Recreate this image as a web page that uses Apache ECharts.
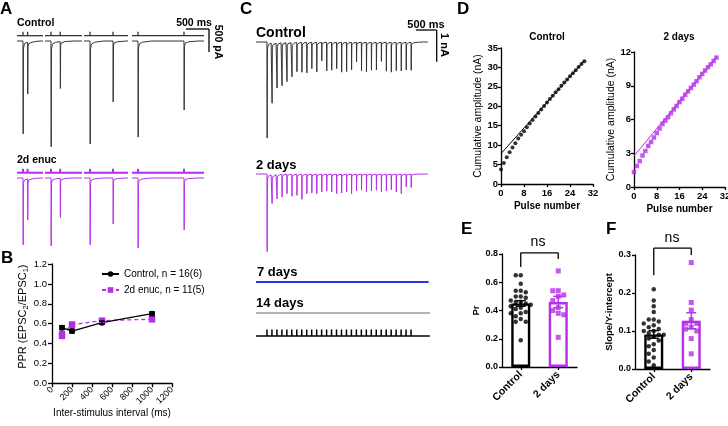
<!DOCTYPE html>
<html><head><meta charset="utf-8">
<script src="https://cdn.jsdelivr.net/npm/echarts@6/dist/echarts.min.js"></script>
<style>html,body{margin:0;padding:0;background:#fff}#c{width:728px;height:426px}</style>
</head><body><div id="c"></div>
<script>
// ===================== DATA =====================
// Panel A: paired-pulse sweeps (ISI in ms, peak amplitudes in pA)
const aISI = [100, 200, 500, 1000];
const aCtrlPeak1 = [2020, 2300, 2240, 2090];
const aCtrlPeak2 = [1130, 1020, 1325, 1500];
const aEnucPeak1 = [1455, 1475, 1455, 1520];
const aEnucPeak2 = [890, 850, 1000, 1130];
const aSweepStart = [0, 609, 1457, 2500];   // ms
const aSweepLen = [565, 804, 956, 1565];    // ms
const aStimDelay = 130;                     // ms
const aScaleMs = 500, aScalePA = 500;

// Panel B: PPR vs inter-stimulus interval
const bISI = [100, 200, 500, 1000];
const bCtrl = [0.56, 0.525, 0.61, 0.70];
const bCtrlSem = [0.02, 0.02, 0.015, 0.02];
const bEnuc = [0.485, 0.59, 0.63, 0.645];
const bEnucSem = [0.035, 0.025, 0.02, 0.025];
const bTicksX = [0, 1200, 200];
const bTicksY = [0, 1.2, 0.2];

// Panel C: train of 30 pulses (peak amplitudes in pA)
const cStimOnset = 265, cISI = 120, cTraceEnd = 4150; // ms
const cCtrlPeaks = [3030, 1900, 1420, 1360, 1230, 1080, 920, 940, 960, 830, 930, 580, 900, 880, 830,
                    940, 920, 870, 620, 900, 930, 880, 870, 600, 910, 940, 890, 900, 870, 880];
const cDay2Peaks = [2450, 905, 770, 716, 611, 695, 663, 790, 611, 590, 611, 558, 527, 558, 611,
                    590, 558, 611, 527, 506, 558, 527, 506, 558, 527, 485, 558, 611, 400, 420];
const cScaleMs = 500, cScalePA = 1000;

// Panel D: cumulative amplitude (nA) vs pulse number
const dPulse = [0,1,2,3,4,5,6,7,8,9,10,11,12,13,14,15,16,17,18,19,20,21,22,23,24,25,26,27,28,29];
const dCtrlCum = [3.7, 5.4, 6.9, 8.2, 9.4, 10.5, 11.7, 12.7, 13.6, 14.6, 15.6, 16.5, 17.4, 18.3, 19.2,
                  20.1, 21.0, 21.9, 22.7, 23.6, 24.4, 25.3, 26.1, 26.9, 27.7, 28.5, 29.3, 30.1, 30.9, 31.6];
const dDay2Cum = [1.33, 1.87, 2.3, 2.8, 3.2, 3.65, 4.0, 4.4, 4.8, 5.2, 5.6, 5.9, 6.2, 6.55, 6.9,
                  7.2, 7.55, 7.85, 8.2, 8.5, 8.8, 9.1, 9.4, 9.75, 10.05, 10.35, 10.65, 10.9, 11.2, 11.5];
const dCtrlFit = [[0, 7.8], [29, 31.8]];
const dDay2Fit = [[0, 2.75], [29, 11.6]];

// Panel E: Pr
const groups = ['Control', '2 days'];
const eMean = [0.45, 0.46];
const eSem = [0.02, 0.04];
const eCtrlPts = [0.65, 0.65, 0.59, 0.54, 0.54, 0.53, 0.50, 0.50, 0.49, 0.47, 0.46, 0.46, 0.45,
                  0.44, 0.43, 0.42, 0.41, 0.39, 0.38, 0.38, 0.36, 0.34, 0.32, 0.32, 0.19];
const eDay2Pts = [0.68, 0.54, 0.54, 0.51, 0.50, 0.47, 0.42, 0.40, 0.38, 0.37, 0.21];
const eBracket = [0.808, 0.708, 0.765]; // top, left foot, right foot

// Panel F: Slope / Y-intercept
const fMean = [0.091, 0.127];
const fSem = [0.01, 0.021];
const fCtrlPts = [0.21, 0.18, 0.165, 0.15, 0.13, 0.13, 0.125, 0.12, 0.115, 0.11, 0.105, 0.10, 0.10,
                  0.095, 0.09, 0.09, 0.085, 0.08, 0.075, 0.065, 0.06, 0.05, 0.04, 0.03, 0.02, 0.01];
const fDay2Pts = [0.28, 0.175, 0.155, 0.13, 0.12, 0.12, 0.11, 0.105, 0.10, 0.08, 0.04];
const fBracket = [0.318, 0.247, 0.30];

// ===================== STYLE / LAYOUT =====================
const FONT = '"Liberation Sans", Arial, Helvetica, sans-serif';
const PURPLE = '#b52ee8';
const BLUE = '#2a32f0';
const GRAY = '#b4b4b4';
const kernelT = [0, 4, 10, 30, 100, 300];
const kernelF = [0, 1, 0.08, 0.03, 0.012, 0];
function kern(dt) {
  if (dt <= 0 || dt >= kernelT[kernelT.length - 1]) return 0;
  for (let i = 1; i < kernelT.length; i++) {
    if (dt <= kernelT[i]) {
      const f = (dt - kernelT[i - 1]) / (kernelT[i] - kernelT[i - 1]);
      return kernelF[i - 1] + f * (kernelF[i] - kernelF[i - 1]);
    }
  }
  return 0;
}
function traceData(events, start, end) {
  const ts = new Set([start, end]);
  events.forEach(e => kernelT.forEach(k => ts.add(e.t + k)));
  const arr = [...ts].filter(t => t >= start && t <= end).sort((a, b) => a - b);
  return arr.map(t => [t, -events.reduce((s, e) => s + e.p * kern(t - e.t), 0)]);
}

const grids = [], xAxes = [], yAxes = [], series = [], graphics = [];
function addGrid(g, xa, ya) {
  g.containLabel = false; g.outerBoundsMode = 'none';
  grids.push(g); const gi = grids.length - 1;
  xa.gridIndex = gi; ya.gridIndex = gi; xAxes.push(xa); yAxes.push(ya); return gi;
}
function hidden(min, max) { return { type: 'value', min, max, show: false, splitLine: { show: false } }; }
function lineS(gi, data, color, width, extra) {
  return Object.assign({ type: 'line', xAxisIndex: gi, yAxisIndex: gi, data, showSymbol: false, symbol: 'none',
    lineStyle: { color, width }, itemStyle: { color }, animation: false, silent: true, clip: false }, extra || {});
}
function segSeries(gi, segs, color, width) {
  return { type: 'custom', xAxisIndex: gi, yAxisIndex: gi, silent: true, clip: false, animation: false, data: segs,
    encode: { x: [0, 2], y: [1, 3] }, z: 4,
    renderItem: (p, api) => {
      const a = api.coord([api.value(0), api.value(1)]);
      const b = api.coord([api.value(2), api.value(3)]);
      return { type: 'line', shape: { x1: a[0], y1: a[1], x2: b[0], y2: b[1] }, style: { stroke: color, lineWidth: width } };
    } };
}
function errSeries(gi, xs, means, sems, colors, cap, width) {
  return { type: 'custom', xAxisIndex: gi, yAxisIndex: gi, silent: true, clip: false, animation: false, z: 6,
    data: xs.map((x, i) => [x, means[i] - sems[i], means[i] + sems[i], i]),
    encode: { x: 0, y: [1, 2] },
    renderItem: (p, api) => {
      const x = api.value(0);
      const lo = api.coord([x, api.value(1)]), hi = api.coord([x, api.value(2)]);
      const c = colors[api.value(3)];
      const st = { stroke: c, lineWidth: width };
      return { type: 'group', children: [
        { type: 'line', shape: { x1: lo[0], y1: lo[1], x2: hi[0], y2: hi[1] }, style: st },
        { type: 'line', shape: { x1: lo[0] - cap, y1: lo[1], x2: lo[0] + cap, y2: lo[1] }, style: st },
        { type: 'line', shape: { x1: hi[0] - cap, y1: hi[1], x2: hi[0] + cap, y2: hi[1] }, style: st }
      ] };
    } };
}
function txt(x, y, s, size, bold, opt) {
  opt = opt || {};
  return { type: 'text', x, y, rotation: opt.rot || 0, z: 100, silent: true,
    style: { text: s, fontSize: size, fontWeight: bold ? 'bold' : 'normal', fontFamily: FONT, fill: opt.color || '#000',
      align: opt.align || 'left', verticalAlign: opt.va || 'middle',
      textAlign: opt.align || 'left', textVerticalAlign: opt.va || 'middle' } };
}
const AX = { color: '#000', width: 1.3 };
function valAxis(min, max, interval, o) {
  o = o || {};
  return { type: 'value', min, max, interval,
    axisLine: { show: true, onZero: false, lineStyle: AX },
    axisTick: { show: true, length: o.tickLen || 3, lineStyle: AX },
    axisLabel: { color: '#000', fontSize: o.fs || 9.5, fontFamily: FONT, fontWeight: o.bold ? 'bold' : 'normal',
      margin: o.margin || 4, rotate: o.rotate || 0, formatter: o.fmt || (v => String(v)), showMinLabel: true, showMaxLabel: true },
    splitLine: { show: false },
    name: o.name, nameLocation: 'middle', nameGap: o.nameGap, nameRotate: o.nameRotate,
    nameTextStyle: Object.assign({ color: '#000', fontSize: o.nfs || 9.5, fontFamily: FONT, fontWeight: o.nbold ? 'bold' : 'normal' }, o.nts || {}) };
}

// ===================== PANEL A =====================
const A_MS_PX = 500 / 23, A_PA_PX = 500 / 23;
function buildA(baseY, peak1, peak2, color, barWidth) {
  const gi = addGrid({ left: 17, top: baseY - 400 / A_PA_PX, width: 4400 / A_MS_PX, height: 3000 / A_PA_PX },
    hidden(0, 4400), hidden(-2600, 400));
  const segs = [];
  aISI.forEach((isi, i) => {
    const s = aSweepStart[i], e = s + aSweepLen[i];
    const t1 = s + aStimDelay, t2 = t1 + isi;
    series.push(lineS(gi, traceData([{ t: t1, p: peak1[i] }, { t: t2, p: peak2[i] }], s, e), color, 1));
    segs.push([s, 115, e, 115], [t1, 115, t1, 200], [t2, 115, t2, 200]);
  });
  series.push(segSeries(gi, segs, color, barWidth));
  return gi;
}
const gA1 = buildA(41, aCtrlPeak1, aCtrlPeak2, '#333', 1.3);
const gA2 = buildA(178, aEnucPeak1, aEnucPeak2, PURPLE, 2);
{
  const x0 = (186 - 17) * A_MS_PX, y0 = (41 - 29) * A_PA_PX;
  series.push(segSeries(gA1, [[x0, y0, x0 + aScaleMs, y0], [x0 + aScaleMs, y0, x0 + aScaleMs, y0 - aScalePA]], '#000', 1.3));
}
graphics.push(txt(0, 9, 'A', 17, true));
graphics.push(txt(17, 23.5, 'Control', 10.5, true));
graphics.push(txt(194, 23, '500 ms', 10.5, true, { align: 'center' }));
graphics.push(txt(218, 42, '500 pA', 10.5, true, { align: 'center', rot: -Math.PI / 2 }));
graphics.push(txt(17, 160.5, '2d enuc', 10.5, true));

// ===================== PANEL B =====================
const gB = addGrid({ left: 52, top: 264, width: 120, height: 119.3 },
  valAxis(bTicksX[0], bTicksX[1], bTicksX[2], { rotate: 45, fs: 9, margin: 5, tickLen: 4,
    name: 'Inter-stimulus interval (ms)', nameGap: 20, nfs: 10 }),
  valAxis(bTicksY[0], bTicksY[1], bTicksY[2], { fs: 9.5, margin: 5, tickLen: 4, fmt: v => v.toFixed(1),
    name: '{t|PPR (EPSC}{s|2}{t|/EPSC}{s|1}{t|)}', nameGap: 21, nameRotate: 90,
    nts: { padding: [0, 0, 0, 14], rich: { t: { fontSize: 11, fontFamily: FONT, color: '#000' },
      s: { fontSize: 7.5, fontFamily: FONT, color: '#000', verticalAlign: 'bottom', padding: [6, 0, 0, 0] } } } }));
series.push(errSeries(gB, bISI, bEnuc, bEnucSem, [PURPLE, PURPLE, PURPLE, PURPLE], 3, 1.2));
series.push(errSeries(gB, bISI, bCtrl, bCtrlSem, ['#000', '#000', '#000', '#000'], 3, 1.2));
series.push({ type: 'line', name: '2d enuc, n = 11(5)', xAxisIndex: gB, yAxisIndex: gB, animation: false,
  data: bISI.map((x, i) => [x, bEnuc[i]]), symbol: 'rect', symbolSize: 6.5, showSymbol: true,
  lineStyle: { color: PURPLE, width: 1.3, type: [4, 3] }, itemStyle: { color: PURPLE }, z: 3 });
series.push({ type: 'line', name: 'Control, n = 16(6)', xAxisIndex: gB, yAxisIndex: gB, animation: false,
  data: bISI.map((x, i) => [x, bCtrl[i]]), symbol: 'circle', symbolSize: 6, showSymbol: true,
  lineStyle: { color: '#000', width: 1.3 }, itemStyle: { color: '#000' }, z: 4 });
graphics.push(txt(1, 258, 'B', 17, true));

// ===================== PANEL C =====================
const C_MS_PX = 500 / 20.7, C_PA_PX = 1000 / 31.7;
const cEvents = peaks => peaks.map((p, k) => ({ t: cStimOnset + k * cISI, p }));
function cGrid(baseY, ymin, ymax, pxPer) {
  return addGrid({ left: 256, top: baseY - ymax / pxPer, width: 4800 / C_MS_PX, height: (ymax - ymin) / pxPer },
    hidden(0, 4800), hidden(ymin, ymax));
}
const gC1 = cGrid(42, -3300, 500, C_PA_PX);
series.push(lineS(gC1, traceData(cEvents(cCtrlPeaks), 0, cTraceEnd), '#333', 1));
{
  const x0 = (416 - 256) * C_MS_PX, y0 = (42 - 30) * C_PA_PX;
  series.push(segSeries(gC1, [[x0, y0, x0 + cScaleMs, y0], [x0 + cScaleMs, y0, x0 + cScaleMs, y0 - cScalePA]], '#000', 1.3));
}
const gC2 = cGrid(174, -3300, 500, C_PA_PX);
series.push(lineS(gC2, traceData(cEvents(cDay2Peaks), 0, cTraceEnd), PURPLE, 1));
const gC3 = cGrid(282, -1, 1, 0.1);
series.push(lineS(gC3, [[0, 0], [cTraceEnd + 20, 0]], BLUE, 2));
const gC4 = cGrid(313, -1, 1, 0.1);
series.push(lineS(gC4, [[0, 0], [cTraceEnd + 50, 0]], GRAY, 2.2));
const gC5 = cGrid(336, -1, 1, 0.1);
{
  const segs = [[0, 0, cTraceEnd + 50, 0]];
  cCtrlPeaks.forEach((p, k) => { const t = cStimOnset + k * cISI; segs.push([t, 0, t, 0.65]); });
  series.push(segSeries(gC5, segs, '#000', 1.5));
}
graphics.push(txt(240, 9, 'C', 17, true));
graphics.push(txt(256, 33.5, 'Control', 14, true));
graphics.push(txt(426, 25, '500 ms', 11, true, { align: 'center' }));
graphics.push(txt(444, 45, '1 nA', 11, true, { align: 'center', rot: -Math.PI / 2 }));
graphics.push(txt(256, 165, '2 days', 13, true));
graphics.push(txt(257, 272, '7 days', 13, true));
graphics.push(txt(256, 303, '14 days', 13, true));

// ===================== PANEL D =====================
function dPanel(left, top, w, h, ymax, yint, cum, fit, color, symbol, size, ttl, tx) {
  const gi = addGrid({ left, top, width: w, height: h },
    valAxis(0, 32, 8, { bold: true, fs: 9.5, margin: 4, name: 'Pulse number', nameGap: 17, nbold: true, nfs: 10 }),
    valAxis(0, ymax, yint, { bold: true, fs: 9.5, margin: 3, name: 'Cumulative amplitude (nA)', nameGap: 15, nameRotate: 90, nfs: 10.5 }));
  series.push(lineS(gi, fit, color, 1));
  series.push({ type: 'scatter', xAxisIndex: gi, yAxisIndex: gi, animation: false, silent: true,
    data: dPulse.map((p, i) => [p, cum[i]]), symbol, symbolSize: size, itemStyle: { color }, z: 3 });
  graphics.push(txt(tx, 37, ttl, 10, true, { align: 'center' }));
  return gi;
}
dPanel(501, 48, 92, 136, 35, 5, dCtrlCum, dCtrlFit, '#000', 'circle', 4, 'Control', 547);
dPanel(634, 52, 91, 135, 12, 3, dDay2Cum, dDay2Fit, PURPLE, 'rect', 4.5, '2 days', 679);
graphics.push(txt(457, 9, 'D', 17, true));

// ===================== PANELS E, F =====================
function swarm(vals, pxPerUnit, step, minDist) {
  const placed = [];
  return vals.map(v => {
    const y = v * pxPerUnit;
    const cands = [0, -step, step, -2 * step, 2 * step, -3 * step, 3 * step];
    for (const dx of cands) {
      if (placed.every(p => Math.hypot(p[0] - dx, p[1] - y) >= minDist)) { placed.push([dx, y]); return dx; }
    }
    placed.push([0, y]); return 0;
  });
}
function barPanel(left, top, w, h, ymax, yint, means, sems, ctrlPts, d2Pts, bracket, yname, nameGap) {
  const pxPer = h / ymax;
  const gi = addGrid({ left, top, width: w, height: h },
    { type: 'category', data: groups, boundaryGap: true,
      axisLine: { show: true, lineStyle: AX }, axisTick: { show: true, alignWithLabel: true, length: 3, lineStyle: AX },
      axisLabel: { color: '#000', fontSize: 10.5, fontWeight: 'bold', fontFamily: FONT, rotate: 45, margin: 6, interval: 0 } },
    valAxis(0, ymax, yint, { bold: true, fs: 9, margin: 4, fmt: v => v.toFixed(1),
      name: yname, nameGap, nameRotate: 90, nbold: true, nfs: 9.5 }));
  series.push({ type: 'bar', xAxisIndex: gi, yAxisIndex: gi, animation: false, silent: true, barWidth: 19, z: 2,
    data: means.map((m, i) => ({ value: m, itemStyle: { color: '#fff', borderColor: i ? PURPLE : '#000', borderWidth: 2.4 } })) });
  const j0 = swarm(ctrlPts, pxPer, 5, 4.6), j1 = swarm(d2Pts, pxPer, 5.5, 5);
  series.push({ type: 'scatter', xAxisIndex: gi, yAxisIndex: gi, animation: false, silent: true, z: 5,
    symbol: 'circle', symbolSize: 4.5, itemStyle: { color: '#000' },
    data: ctrlPts.map((v, i) => ({ value: [0, v], symbolOffset: [j0[i], 0] })) });
  series.push({ type: 'scatter', xAxisIndex: gi, yAxisIndex: gi, animation: false, silent: true, z: 5,
    symbol: 'rect', symbolSize: 5, itemStyle: { color: PURPLE },
    data: d2Pts.map((v, i) => ({ value: [1, v], symbolOffset: [j1[i], 0] })) });
  series.push(errSeries(gi, [0, 1], means, sems, ['#000', PURPLE], 5, 1.4));
  series.push(segSeries(gi, [[0, bracket[0], 1, bracket[0]], [0, bracket[0], 0, bracket[1]], [1, bracket[0], 1, bracket[2]]], '#000', 1.3));
  return gi;
}
barPanel(502, 254, 75, 113, 0.8, 0.2, eMean, eSem, eCtrlPts, eDay2Pts, eBracket, 'Pr', 21);
barPanel(635, 255, 75, 114, 0.3, 0.1, fMean, fSem, fCtrlPts, fDay2Pts, fBracket, 'Slope/Y-intercept', 20);
graphics.push(txt(538, 242, 'ns', 14, false, { align: 'center' }));
graphics.push(txt(672, 238, 'ns', 14, false, { align: 'center' }));
graphics.push(txt(461, 229, 'E', 17, true));
graphics.push(txt(606, 229, 'F', 17, true));

// ===================== CHART =====================
const chart = echarts.init(document.getElementById('c'), null, { renderer: 'canvas' });
chart.setOption({
  backgroundColor: '#fff',
  animation: false,
  textStyle: { fontFamily: FONT },
  grid: grids, xAxis: xAxes, yAxis: yAxes, series,
  legend: { show: true, left: 96, top: 264, orient: 'vertical', itemWidth: 17, itemHeight: 7, itemGap: 6,
    textStyle: { fontSize: 10, fontFamily: FONT, color: '#000' }, selectedMode: false,
    data: ['Control, n = 16(6)', '2d enuc, n = 11(5)'] },
  graphic: graphics
});
</script></body></html>
